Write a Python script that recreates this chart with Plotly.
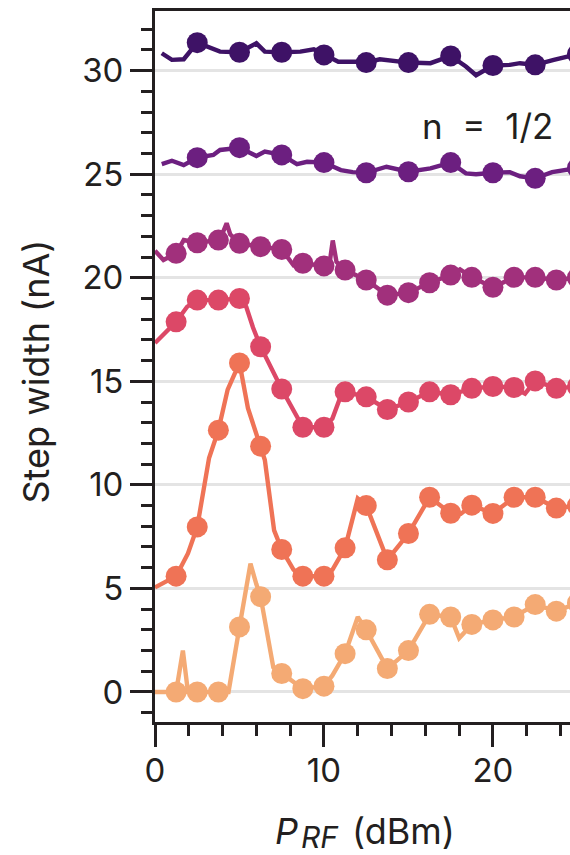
import plotly.graph_objects as go

FONT = "Inter, Liberation Sans, Arial, sans-serif"
INK = "#231f20"
GRID = "#e4e4e4"

# RF power at which step widths were sampled (dBm)
PRF_COARSE = [2.5, 5.0, 7.5, 10.0, 12.5, 15.0, 17.5, 20.0, 22.5, 25.0]
PRF_FINE = [1.25, 2.5, 3.75, 5.0, 6.25, 7.5, 8.75, 10.0, 11.25, 12.5,
            13.75, 15.0, 16.25, 17.5, 18.75, 20.0, 21.25, 22.5, 23.75, 25.0]

# sampled step widths (nA), offset traces from top to bottom
W1_MARK = [31.35, 30.89, 30.89, 30.76, 30.39, 30.39, 30.71, 30.25, 30.28, 30.8]
W2_MARK = [25.8, 26.28, 25.93, 25.56, 25.07, 25.12, 25.56, 25.07, 24.8, 25.3]
W3_MARK = [21.18, 21.69, 21.82, 21.66, 21.5, 21.37, 20.7, 20.57, 20.37, 19.89,
           19.16, 19.28, 19.76, 20.13, 20.02, 19.54, 20.02, 20.02, 19.89, 20.0]
W4_MARK = [17.87, 18.92, 18.92, 19.0, 16.67, 14.63, 12.78, 12.78, 14.49, 14.25,
           13.64, 14.0, 14.49, 14.35, 14.66, 14.75, 14.7, 15.02, 14.66, 14.75]
W5_MARK = [5.59, 7.97, 12.64, 15.89, 11.87, 6.88, 5.59, 5.59, 6.96, 9.0,
           6.38, 7.65, 9.4, 8.63, 9.02, 8.62, 9.4, 9.4, 8.88, 9.0]
W6_MARK = [0.0, 0.0, 0.0, 3.14, 4.6, 0.89, 0.16, 0.28, 1.85, 3.0,
           1.13, 2.0, 3.75, 3.62, 3.26, 3.48, 3.62, 4.22, 3.9, 4.3]

# continuous sweeps (dBm, nA)
L1_X = [0.4, 1.0, 1.7, 2.5, 3.85, 5.0, 6.0, 6.5, 7.5, 8.6, 9.4, 10.0, 10.85, 11.9,
        12.5, 13.3, 15.0, 16.3, 17.5, 18.4, 19.0, 20.0, 21.0, 21.6, 22.5, 23.6, 25.0]
L1_Y = [30.84, 30.52, 30.55, 31.35, 30.92, 30.89, 31.32, 30.92, 30.89, 30.92, 31.03,
        30.76, 30.43, 30.43, 30.39, 30.55, 30.39, 30.36, 30.71, 30.2, 29.78, 30.25,
        30.28, 30.36, 30.28, 30.52, 30.8]

L2_X = [0.4, 1.0, 1.7, 2.5, 3.45, 3.85, 5.0, 6.0, 6.5, 7.5, 8.4, 9.0, 10.0, 11.0,
        11.7, 12.5, 13.7, 15.0, 16.3, 17.5, 18.4, 19.0, 20.0, 21.0, 21.6, 22.5,
        23.5, 25.0]
L2_Y = [25.49, 25.65, 25.44, 25.8, 25.93, 26.17, 26.28, 25.88, 26.09, 25.93, 25.49,
        25.6, 25.56, 25.2, 25.1, 25.07, 25.36, 25.12, 25.28, 25.56, 25.04, 25.0,
        25.07, 25.1, 24.9, 24.8, 25.1, 25.3]

L3_X = [0.0, 0.5, 1.25, 1.7, 2.5, 3.75, 3.95, 4.24, 4.45, 5.0, 6.25, 7.5, 8.2,
        8.75, 10.0, 10.36, 10.52, 10.74, 11.25, 12.5, 13.75, 15.0, 16.25, 17.5,
        18.05, 18.75, 20.0, 21.25, 22.5, 23.75, 25.0]
L3_Y = [21.3, 20.86, 21.18, 21.82, 21.69, 21.82, 22.05, 22.63, 22.1, 21.66, 21.5,
        21.37, 20.6, 20.7, 20.57, 20.86, 21.8, 20.77, 20.37, 19.89, 19.16, 19.28,
        19.76, 20.13, 20.4, 20.02, 19.54, 20.02, 20.02, 19.89, 20.0]

L4_X = [0.0, 1.25, 1.9, 2.5, 3.75, 5.0, 5.4, 5.8, 6.25, 7.5, 8.75, 10.0, 10.5,
        11.0, 11.25, 12.5, 13.75, 15.0, 16.25, 17.5, 18.75, 20.0, 21.25, 21.9,
        22.5, 23.75, 25.0]
L4_Y = [16.85, 17.87, 18.6, 18.92, 18.92, 19.0, 18.6, 17.6, 16.67, 14.63, 12.78,
        12.78, 13.2, 14.3, 14.49, 14.25, 13.64, 14.0, 14.49, 14.35, 14.66, 14.75,
        14.7, 14.4, 15.02, 14.66, 14.75]

L5_X = [0.0, 1.25, 1.95, 2.5, 3.2, 3.75, 4.3, 5.0, 5.5, 6.25, 6.5, 7.05, 7.5, 8.2,
        8.75, 10.0, 10.5, 11.25, 12.0, 12.5, 13.75, 15.0, 16.25, 17.5, 18.1, 18.75,
        20.0, 21.25, 22.5, 23.75, 25.0]
L5_Y = [5.05, 5.59, 6.69, 7.97, 11.3, 12.64, 14.6, 15.89, 13.7, 11.87, 11.2, 7.8,
        6.88, 5.9, 5.59, 5.59, 5.9, 6.96, 9.34, 9.0, 6.38, 7.65, 9.4, 8.63, 8.6,
        9.02, 8.62, 9.4, 9.4, 8.88, 9.0]

L6_X = [0.0, 1.25, 1.65, 1.95, 2.5, 3.75, 4.35, 5.0, 5.65, 6.0, 6.25, 7.0, 7.5,
        8.2, 8.75, 10.0, 10.5, 11.25, 12.0, 12.5, 13.75, 15.0, 16.25, 17.5, 18.0,
        18.75, 20.0, 21.25, 22.5, 23.75, 25.0]
L6_Y = [0.0, 0.0, 2.0, 0.0, 0.0, 0.0, 0.0, 3.14, 6.2, 5.2, 4.6, 1.2, 0.89, 0.48,
        0.16, 0.28, 0.8, 1.85, 3.62, 3.0, 1.13, 2.0, 3.75, 3.62, 2.6, 3.26, 3.48,
        3.62, 4.22, 3.9, 4.3]

COLORS = ["#3e1266", "#6c1f80", "#a1307c", "#dc4867", "#ef7356", "#f4aa74"]

series = [
    (L1_X, L1_Y, PRF_COARSE, W1_MARK),
    (L2_X, L2_Y, PRF_COARSE, W2_MARK),
    (L3_X, L3_Y, PRF_FINE, W3_MARK),
    (L4_X, L4_Y, PRF_FINE, W4_MARK),
    (L5_X, L5_Y, PRF_FINE, W5_MARK),
    (L6_X, L6_Y, PRF_FINE, W6_MARK),
]

W, H = 570, 855
ML, MR, MT, MB = 155, 0, 11, 133
PW, PH = W - ML - MR, H - MT - MB


def px_x(p):
    # horizontal pixel -> paper fraction
    return (p - ML) / PW


def px_y(p):
    # vertical pixel -> paper fraction
    return (H - MB - p) / PH


fig = go.Figure()
for (lx, ly, mx, my), col in zip(series, COLORS):
    fig.add_trace(go.Scatter(x=lx, y=ly, mode="lines",
                             line=dict(color=col, width=4.4),
                             hoverinfo="skip", showlegend=False))
    fig.add_trace(go.Scatter(x=mx, y=my, mode="markers",
                             marker=dict(color=col, size=21, line=dict(width=0)),
                             showlegend=False))

# in-plot label
fig.add_annotation(x=19.7, y=27.35, text="n&nbsp; =&nbsp; 1/2", showarrow=False,
                   font=dict(family=FONT, size=35, color=INK),
                   xanchor="center", yanchor="middle")

# axis titles, set as paper-anchored text
title_font = dict(family=FONT, size=36, color=INK)
fig.add_annotation(xref="paper", yref="paper", x=px_x(35), y=px_y(371.5),
                   text="Step width (nA)", textangle=-90, showarrow=False,
                   font=title_font, xanchor="center", yanchor="middle")
fig.add_annotation(xref="paper", yref="paper", x=px_x(286.5), y=px_y(831),
                   text="<i>P</i>", showarrow=False, font=title_font,
                   xanchor="center", yanchor="middle")
fig.add_annotation(xref="paper", yref="paper", x=px_x(320), y=px_y(836.5),
                   text="<i>RF</i>", showarrow=False,
                   font=dict(family=FONT, size=30, color=INK),
                   xanchor="center", yanchor="middle")
fig.add_annotation(xref="paper", yref="paper", x=px_x(403.5), y=px_y(831),
                   text="(dBm)", showarrow=False, font=title_font,
                   xanchor="center", yanchor="middle")

fig.update_layout(
    width=W, height=H,
    margin=dict(l=ML, r=MR, t=MT, b=MB, pad=0),
    paper_bgcolor="white", plot_bgcolor="white",
    font=dict(family=FONT, color=INK),
    xaxis=dict(
        range=[0, 24.56], showgrid=False, zeroline=False,
        showline=True, linewidth=3, linecolor=INK, mirror=True,
        ticks="outside", tick0=0, dtick=10, ticklen=22, tickwidth=3,
        tickcolor=INK, tickfont=dict(size=33, family=FONT, color=INK),
        ticklabelstandoff=-5,
        minor=dict(dtick=2, tick0=0, ticks="outside", ticklen=11,
                   tickwidth=3, tickcolor=INK, showgrid=False),
    ),
    yaxis=dict(
        range=[-1.45, 32.88], showgrid=True, gridcolor=GRID, gridwidth=2.5,
        zeroline=False, showline=True, linewidth=3, linecolor=INK,
        ticks="outside", tick0=0, dtick=5, ticklen=22, tickwidth=3,
        tickcolor=INK, tickfont=dict(size=33, family=FONT, color=INK),
        minor=dict(dtick=1, tick0=0, ticks="outside", ticklen=11,
                   tickwidth=3, tickcolor=INK, showgrid=False),
    ),
)

fig.write_html("out.html")
